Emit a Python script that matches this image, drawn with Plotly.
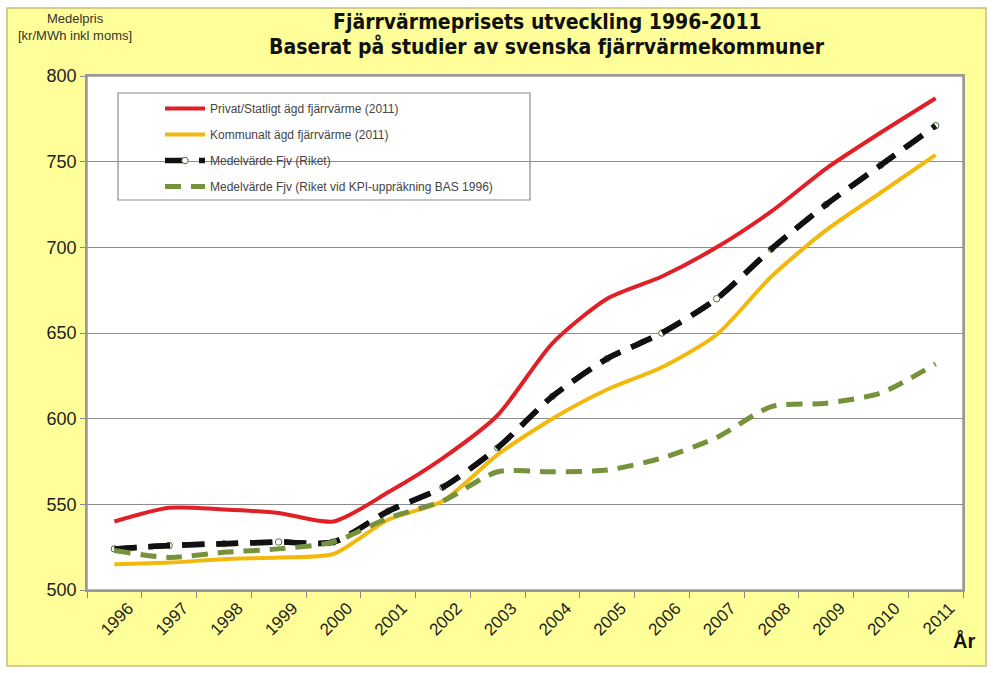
import plotly.graph_objects as go

# District heating price, kr/MWh incl. VAT
years = [str(y) for y in range(1996, 2012)]
privat = [540, 548, 547, 545, 540, 557, 577, 602, 644, 670, 683, 700, 721, 746, 767, 787]
kommunal = [515, 516, 518, 519, 521, 541, 552, 579, 600, 617, 630, 649, 683, 710, 732, 754]
medel = [524, 526, 527, 528, 528, 546, 560, 583, 613, 635, 650, 670, 699, 725, 748, 771]
medel_kpi = [523, 519, 522, 524, 528, 542, 552, 569, 569, 570, 577, 589, 607, 609, 615, 632]

names = [
    "Privat/Statligt ägd fjärrvärme (2011)",
    "Kommunalt ägd fjärrvärme (2011)",
    "Medelvärde Fjv (Riket)",
    "Medelvärde Fjv (Riket vid KPI-uppräkning BAS 1996)",
]
y_ticks = [500, 550, 600, 650, 700, 750, 800]

W, H = 993, 673
L, R, T, B = 87, 30, 76, 83
pw, ph = W - L - R, H - T - B


def px(x):
    return (x - L) / pw


def py(y):
    return (H - B - y) / ph


SMOOTH = 0.7
fig = go.Figure()
fig.add_trace(go.Scatter(
    x=years, y=privat, name=names[0], mode="lines", legendgroup="a",
    line=dict(color="#e01f26", width=4, shape="spline", smoothing=SMOOTH)))
fig.add_trace(go.Scatter(
    x=years, y=kommunal, name=names[1], mode="lines", legendgroup="b",
    line=dict(color="#f2b90c", width=4, shape="spline", smoothing=SMOOTH)))
fig.add_trace(go.Scatter(
    x=years, y=medel, name=names[2], mode="lines+markers", legendgroup="c",
    line=dict(color="#111111", width=5.5, dash="22px,12px", shape="spline", smoothing=SMOOTH),
    marker=dict(symbol="circle", size=6.5, color="white",
                line=dict(color="#4d6b3c", width=1))))
# dashes drawn again over the markers so circles only show in the gaps
fig.add_trace(go.Scatter(
    x=years, y=medel, mode="lines", legendgroup="c", showlegend=False, hoverinfo="skip",
    line=dict(color="#111111", width=5.5, dash="22px,12px", shape="spline", smoothing=SMOOTH)))
fig.add_trace(go.Scatter(
    x=years, y=medel_kpi, name=names[3], mode="lines", legendgroup="d",
    line=dict(color="#76923c", width=5, dash="16px,10px", shape="spline", smoothing=SMOOTH)))

shapes = [
    # yellow panel
    dict(type="rect", xref="paper", yref="paper", layer="below",
         x0=px(7), x1=px(986), y0=py(666), y1=py(8),
         fillcolor="#ffff99", line=dict(color="#c8bd7a", width=1.5)),
    # white plot area
    dict(type="rect", xref="paper", yref="paper", layer="below",
         x0=0, x1=1, y0=0, y1=1, fillcolor="white", line=dict(color="#9a9a9a", width=1.5)),
    # legend box
    dict(type="rect", xref="paper", yref="paper", layer="above",
         x0=px(118), x1=px(530), y0=py(200), y1=py(93),
         fillcolor="rgba(0,0,0,0)", line=dict(color="#8a8a8a", width=1.2)),
]

title_font = dict(family="Liberation Sans Narrow, Arial Narrow, DejaVu Sans Condensed, sans-serif",
                  size=21, color="#111111")
small_font = "Liberation Sans Narrow, Arial Narrow, Liberation Sans, sans-serif"
annotations = [
    dict(text="<b>Fjärrvärmeprisets utveckling 1996-2011</b>", xref="paper", yref="paper",
         x=px(547), y=py(22), showarrow=False, font=title_font, xanchor="center", yanchor="middle"),
    dict(text="<b>Baserat på studier av svenska fjärrvärmekommuner</b>", xref="paper", yref="paper",
         x=px(547), y=py(47), showarrow=False, font=title_font, xanchor="center", yanchor="middle"),
    dict(text="Medelpris<br>[kr/MWh inkl moms]", xref="paper", yref="paper",
         x=px(75), y=py(27), showarrow=False, xanchor="center", yanchor="middle",
         font=dict(family=small_font, size=13, color="#333333")),
    dict(text="<b>År</b>", xref="paper", yref="paper",
         x=px(964), y=py(640), showarrow=False, xanchor="center", yanchor="middle",
         font=dict(family=small_font, size=20, color="#111111")),
]

fig.update_layout(
    width=W, height=H,
    margin=dict(l=L, r=R, t=T, b=B, pad=0),
    paper_bgcolor="white", plot_bgcolor="white",
    showlegend=True,
    legend=dict(x=px(160), y=py(94), xanchor="left", yanchor="top",
                bgcolor="rgba(0,0,0,0)", borderwidth=0,
                font=dict(family=small_font, size=12, color="#444444"),
                itemwidth=40, tracegroupgap=7, traceorder="grouped"),
    shapes=shapes, annotations=annotations,
)
fig.update_xaxes(
    type="category", range=[-0.5, 15.5], tickson="boundaries",
    ticks="outside", ticklen=6, tickcolor="#888888",
    tickangle=-45, ticklabelshift=14,
    tickfont=dict(family="Liberation Sans, Arial, sans-serif", size=17, color="#222222"),
    showgrid=False, showline=True, linecolor="#999999", linewidth=1.5, mirror=True,
)
fig.update_yaxes(
    range=[500, 800], tickvals=y_ticks,
    ticks="outside", ticklen=5, tickcolor="#888888",
    tickfont=dict(family="Liberation Sans, Arial, sans-serif", size=18, color="#222222"),
    showgrid=True, gridcolor="#8c8c8c", gridwidth=1,
    showline=True, linecolor="#999999", linewidth=1.5, mirror=True, zeroline=False,
)

fig.write_html("out.html")
